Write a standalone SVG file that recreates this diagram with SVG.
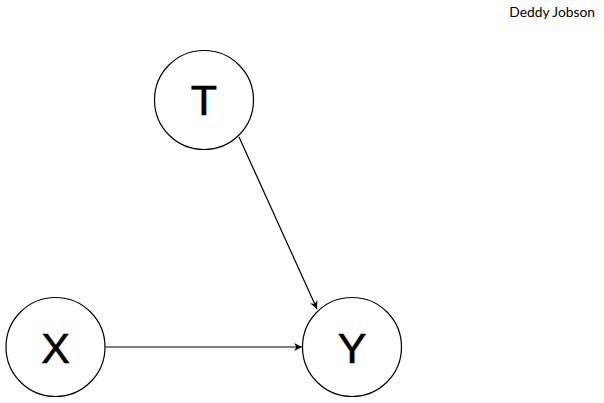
<svg xmlns="http://www.w3.org/2000/svg" width="604" height="403" viewBox="0 0 604 403">
<style>
.node circle{fill:#fff;stroke:#000;stroke-width:1.2}
.node text{font-family:"Liberation Sans",Arial,sans-serif;font-size:43px;text-anchor:middle;fill:#000;stroke:#000;stroke-width:0.6}
.edge{stroke:#000;stroke-width:1.2;fill:none;marker-end:url(#arr)}
.author{font-family:Lato,"Open Sans",sans-serif;font-size:13.8px;text-anchor:end;fill:#000}
</style>
<defs>
<marker id="arr" viewBox="0 0 10 10" refX="10" refY="5" markerWidth="8" markerHeight="8" markerUnits="userSpaceOnUse" orient="auto">
<path d="M0,0 L10,5 L0,10 L3,5 z" fill="#000"/>
</marker>
</defs>
<rect width="604" height="403" fill="#fff"/>
<text class="author" x="595" y="17">Deddy Jobson</text>
<g id="connectors">
<line class="edge" x1="105.5" y1="347" x2="302" y2="347"/>
<line class="edge" x1="239" y1="137" x2="317" y2="309"/>
</g>
<g id="node-T" class="node">
<circle cx="204" cy="100" r="49.5"/>
<text x="204" y="115">T</text>
</g>
<g id="node-X" class="node">
<circle cx="55.5" cy="347" r="49.5"/>
<text x="55.5" y="363">X</text>
</g>
<g id="node-Y" class="node">
<circle cx="352" cy="347" r="49.5"/>
<text x="352" y="363">Y</text>
</g>
</svg>
